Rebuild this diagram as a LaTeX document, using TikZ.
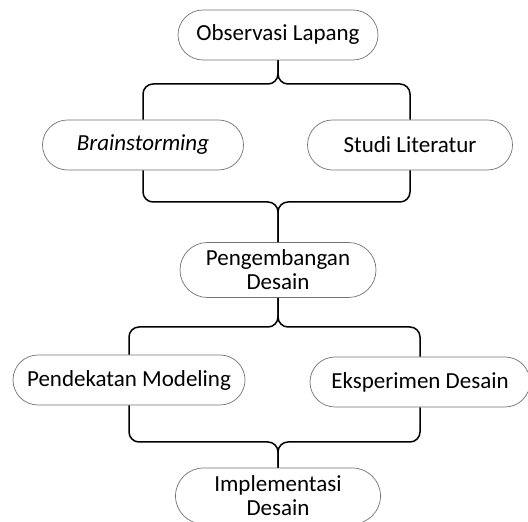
\documentclass[tikz,border=0pt]{standalone}
\usepackage{fontspec}
\setmainfont{Carlito}
\usepackage{tikz}
\usetikzlibrary{shapes.misc, calc}

\begin{document}
\begin{tikzpicture}[x=1bp, y=1bp,
  phase/.style={rounded rectangle, draw=black!55, line width=0.7bp, fill=white,
    inner sep=0pt, minimum height=50bp, align=center,
    font=\fontsize{23bp}{24bp}\selectfont},
  link/.style={line width=1.5bp, rounded corners=10bp}]
  % Canvas
  \useasboundingbox (0,0) rectangle (528,522);

  % Phases
  \node[phase, minimum width=200bp] (obs) at (278,487) {Observasi Lapang};
  \node[phase, minimum width=201bp] (brain) at (143,377) {\textit{Brainstorming}};
  \node[phase, minimum width=205bp] (studi) at (410,377) {Studi Literatur};
  \node[phase, minimum width=196bp, minimum height=55bp] (peng) at (278,252) {Pengembangan\\Desain};
  \node[phase, minimum width=232bp] (pend) at (129,142) {Pendekatan Modeling};
  \node[phase, minimum width=220bp] (eksp) at (420,140) {Eksperimen Desain};
  \node[phase, minimum width=205bp, minimum height=56bp] (impl) at (278,26) {Implementasi\\Desain};

  % Junction points
  \coordinate (j1) at (278,438);
  \coordinate (j2) at (278,320);
  \coordinate (j3) at (278,195);
  \coordinate (j4) at (278,80);

  % Braces between phases
  \draw[link] (brain.north) |- (j1) -- (obs.south);
  \draw[link] (studi.north) |- (j1) -- (obs.south);
  \draw[link] (brain.south) |- (j2) -- (peng.north);
  \draw[link] (studi.south) |- (j2) -- (peng.north);
  \draw[link] (pend.north) |- (j3) -- (peng.south);
  \draw[link] (eksp.north) |- (j3) -- (peng.south);
  \draw[link] (pend.south) |- (j4) -- (impl.north);
  \draw[link] (eksp.south) |- (j4) -- (impl.north);
\end{tikzpicture}
\end{document}
